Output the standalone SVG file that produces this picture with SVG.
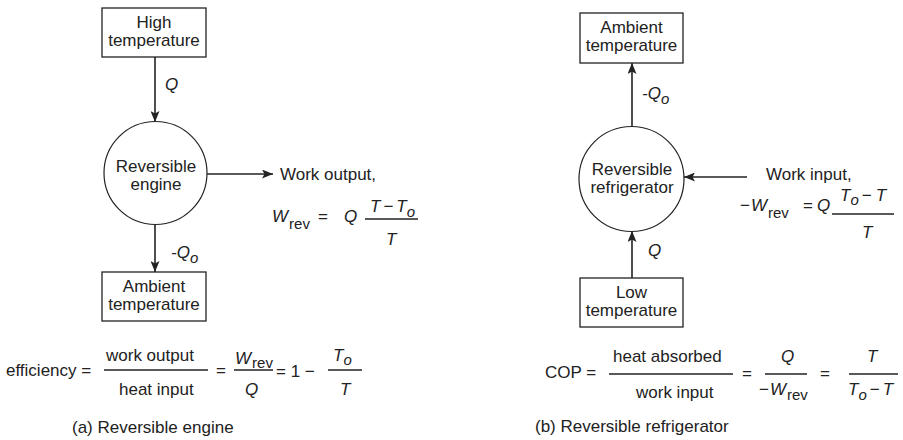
<svg xmlns="http://www.w3.org/2000/svg" width="903" height="440" viewBox="0 0 903 440">
<defs>
<marker id="ah" markerWidth="11" markerHeight="9" refX="11" refY="4.5" orient="auto" markerUnits="userSpaceOnUse">
<path d="M0,0 L11,4.5 L0,9 L2.5,4.5 z" fill="#222"/>
</marker>
</defs>
<style>
text{font-family:"Liberation Sans",Arial,Helvetica,sans-serif;font-size:17px;fill:#222}
.i{font-style:italic}
.n{font-style:normal}
.s{font-size:15px}
.c{text-anchor:middle}
.box{fill:#fff;stroke:#222;stroke-width:1.3}
.cir{fill:#fff;stroke:#222;stroke-width:1.2}
.ln{stroke:#222;stroke-width:1.6;fill:none}
.fr{stroke:#222;stroke-width:1.3}
</style>
<rect width="903" height="440" fill="#fff"/>

<g id="connectors">
<line class="ln" x1="155" y1="57" x2="155" y2="122" marker-end="url(#ah)"/>
<line class="ln" x1="155" y1="225" x2="155" y2="272" marker-end="url(#ah)"/>
<line class="ln" x1="207" y1="174" x2="273" y2="174" marker-end="url(#ah)"/>
<line class="ln" x1="632" y1="127" x2="632" y2="63" marker-end="url(#ah)"/>
<line class="ln" x1="632" y1="278" x2="632" y2="231" marker-end="url(#ah)"/>
<line class="ln" x1="747" y1="177" x2="684" y2="177" marker-end="url(#ah)"/>
</g>

<g id="high-temp">
<rect class="box" x="102" y="8" width="104" height="49"/>
<text class="c" x="154" y="28">High</text>
<text class="c" x="154" y="46">temperature</text>
</g>
<g id="engine">
<circle class="cir" cx="155.5" cy="173" r="51.5"/>
<text class="c" x="156" y="172">Reversible</text>
<text class="c" x="156" y="190">engine</text>
</g>
<g id="ambient-a">
<rect class="box" x="102" y="272" width="104" height="49"/>
<text class="c" x="154" y="292">Ambient</text>
<text class="c" x="154" y="310">temperature</text>
</g>

<g id="labels-a">
<text class="i" x="165" y="90">Q</text>
<text class="i" x="171" y="258">-Q<tspan class="s" dy="5">o</tspan></text>
<text x="280" y="180">Work output,</text>
<text class="i" x="272" y="222">W<tspan class="n s" dx="1" dy="7">rev</tspan></text>
<text x="318" y="222">=</text>
<text class="i" x="344" y="222">Q</text>
<text class="i" x="370" y="212">T<tspan class="n" dx="3">−</tspan><tspan dx="3">T</tspan><tspan class="s" dy="5">o</tspan></text>
<line class="fr" x1="365" y1="219" x2="418" y2="219"/>
<text class="i" x="386" y="245">T</text>
</g>

<g id="efficiency">
<text x="6" y="376">efficiency =</text>
<text x="106" y="361">work output</text>
<line class="fr" x1="104" y1="370" x2="208" y2="370"/>
<text x="119" y="395">heat input</text>
<text x="216" y="376">=</text>
<text class="i" x="235" y="364">W<tspan class="n s" dx="1" dy="4">rev</tspan></text>
<line class="fr" x1="234" y1="370" x2="273" y2="370"/>
<text class="i" x="245" y="395">Q</text>
<text x="276" y="377">= 1 −</text>
<text class="i" x="333" y="361">T<tspan class="s" dy="4">o</tspan></text>
<line class="fr" x1="328" y1="370" x2="362" y2="370"/>
<text class="i" x="340" y="395">T</text>
<text x="72" y="433">(a) Reversible engine</text>
</g>

<g id="ambient-b">
<rect class="box" x="580" y="13" width="103" height="50"/>
<text class="c" x="631.5" y="33">Ambient</text>
<text class="c" x="631.5" y="51">temperature</text>
</g>
<g id="refrigerator">
<circle class="cir" cx="631.5" cy="179" r="52.5"/>
<text class="c" x="632" y="175">Reversible</text>
<text class="c" x="632" y="193">refrigerator</text>
</g>
<g id="low-temp">
<rect class="box" x="580" y="278" width="103" height="49"/>
<text class="c" x="631.5" y="298">Low</text>
<text class="c" x="631.5" y="316">temperature</text>
</g>

<g id="labels-b">
<text class="i" x="642" y="99">-Q<tspan class="s" dy="5">o</tspan></text>
<text class="i" x="648" y="256">Q</text>
<text x="766" y="180">Work input,</text>
<text x="740" y="211">−<tspan class="i" dx="1">W</tspan><tspan class="s" dx="1" dy="7">rev</tspan></text>
<text x="803" y="211">=</text>
<text class="i" x="817" y="211">Q</text>
<text class="i" x="840" y="201">T<tspan class="s" dy="4">o</tspan><tspan class="n" dx="3" dy="-4">−</tspan><tspan dx="4">T</tspan></text>
<line class="fr" x1="832" y1="214" x2="894" y2="214"/>
<text class="i" x="862" y="238">T</text>
</g>

<g id="cop">
<text x="545" y="378">COP =</text>
<text x="613" y="362">heat absorbed</text>
<line class="fr" x1="609" y1="374" x2="733" y2="374"/>
<text x="636" y="398">work input</text>
<text x="742" y="379">=</text>
<text class="i" x="781" y="362">Q</text>
<line class="fr" x1="765" y1="374" x2="807" y2="374"/>
<text x="759" y="395">−<tspan class="i" dx="1">W</tspan><tspan class="s" dx="1" dy="5">rev</tspan></text>
<text x="820" y="379">=</text>
<text class="i" x="867" y="362">T</text>
<line class="fr" x1="849" y1="374" x2="898" y2="374"/>
<text class="i" x="848" y="395">T<tspan class="s" dy="5">o</tspan><tspan class="n" dx="3" dy="-5">−</tspan><tspan dx="3">T</tspan></text>
<text x="535" y="432">(b) Reversible refrigerator</text>
</g>
</svg>
